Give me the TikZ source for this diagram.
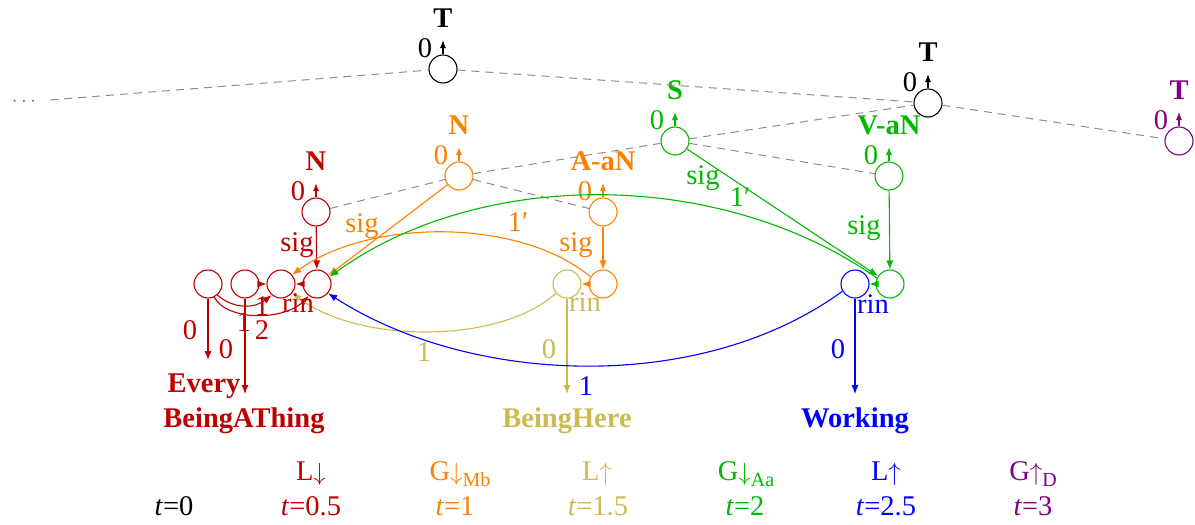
\documentclass[tikz,border=0pt]{standalone}
\usepackage{fontspec}
\setmainfont{Liberation Serif}
\usetikzlibrary{arrows.meta}
\definecolor{cR}{RGB}{192,0,0}
\definecolor{cO}{RGB}{255,128,0}
\definecolor{cY}{RGB}{204,187,80}
\definecolor{cG}{RGB}{0,185,0}
\definecolor{cB}{RGB}{0,0,255}
\definecolor{cP}{RGB}{128,0,128}
\definecolor{cD}{RGB}{140,140,140}
\newcommand\mkup[5]{%
 \node[st,draw=#4] (#1) at (#2,#3) {};
 \coordinate (#1u) at (#2,#3-29);
 \draw[upa,#4] (#1) -- (#1u);
 \node[bld,#4,anchor=base] (#1l) at (#2,#3-42) {#5};
 \node[txt,#4,anchor=base] (#1z) at (#2-18,#3-12) {0};
}
\newcommand\subx[1]{\raisebox{-0.22em}{\fontsize{20}{22}\selectfont #1}}
\newcommand\dn{$\downarrow$}
\newcommand\upr{$\uparrow$}
\begin{document}
\begin{tikzpicture}[x=1pt,y=-1pt,
 st/.style={circle,draw,minimum size=28pt,inner sep=0pt,line width=1.1pt},
 arr/.style={-{Latex[length=9pt,width=7pt]},line width=1.1pt},
 upa/.style={-{Latex[length=8pt,width=6pt]},line width=1.1pt},
 txt/.style={inner sep=0pt,font=\fontsize{28.5}{31}\selectfont},
 bld/.style={inner sep=0pt,font=\fontsize{28.5}{31}\selectfont\bfseries},
 word/.style={inner xsep=0pt,inner ysep=13pt,font=\fontsize{28.5}{31}\selectfont\bfseries,anchor=base},
 dsh/.style={dash pattern=on 8pt off 6pt,cD,line width=1pt},
]
\useasboundingbox (0,0) rectangle (1195,525);

% upper nodes
\mkup{T1}{443}{69}{black}{T}
\mkup{T2}{928}{103}{black}{T}
\mkup{T3}{1179}{141}{cP}{T}
\mkup{rN}{316}{212}{cR}{N}
\mkup{orN}{459}{176}{cO}{N}
\mkup{AaN}{603}{212}{cO}{A-aN}
\mkup{S}{675}{141}{cG}{S}
\mkup{VaN}{889}{176}{cG}{V-aN}

\node[inner xsep=14pt,inner ysep=0pt,text=cD!80!black,font=\fontsize{21}{22}\selectfont] (dots) at (24,102) {$\cdots$};

% bottom circles
\node[st,draw=cR] (r1) at (208,284) {};
\node[st,draw=cR] (r2) at (245,284) {};
\node[st,draw=cR] (r3) at (281,284) {};
\node[st,draw=cR] (r4) at (317,284) {};
\node[st,draw=cY] (yl) at (567,284) {};
\node[st,draw=cO] (orB) at (603,284) {};
\node[st,draw=cB] (bl) at (855,284) {};
\node[st,draw=cG] (gr) at (890,284) {};

% words
\node[word,cR] (ev) at (204,392) {Every};
\node[word,cR] (bat) at (244,427) {BeingAThing};
\node[word,cY] (bh) at (567,427) {BeingHere};
\node[word,cB] (wk) at (855,427) {Working};

% dashed tree lines
\draw[dsh] (dots) -- (T1);
\draw[dsh] (T1) -- (T2);
\draw[dsh] (T2) -- (T3);
\draw[dsh] (rN) -- (orN);
\draw[dsh] (orN) -- (S);
\draw[dsh] (orN) -- (AaN);
\draw[dsh] (S) -- (T2);
\draw[dsh] (S) -- (VaN);

% red edges
\draw[arr,cR] (rN) -- (r4);
\draw[arr,cR] (r2) -- (r3);
\draw[arr,cR] (r4) -- (r3);
\draw[arr,cR] (r1.-50) .. controls (235,310) and (255,308) .. (r3.-130);
\draw[arr,cR] (r1.-65) .. controls (228,322) and (285,320) .. (r4.-125);
\draw[arr,cR] (r1) -- (r1 |- ev.north);
\draw[arr,cR] (r2) -- (r2 |- bat.north);

% orange edges
\draw[arr,cO] (orN) -- (r4);
\draw[arr,cO] (AaN) -- (orB);
\draw[arr,cO] (orB) -- (yl);
\draw[arr,cO] (orB.150) .. controls (520,218) and (370,218) .. (r3.40);

% yellow edges
\draw[arr,cY] (yl.220) .. controls (500,344) and (360,344) .. (r3.-40);
\draw[arr,cY] (yl) -- (yl |- bh.north);

% green edges
\draw[arr,cG] (S) -- (gr);
\draw[arr,cG] (VaN) -- (gr);
\draw[arr,cG] (gr) -- (bl);
\draw[arr,cG] (gr.155) .. controls (720,168) and (480,168) .. (r4.30);

% blue edges
\draw[arr,cB] (bl.210) .. controls (700,395) and (470,385) .. (r4.-40);
\draw[arr,cB] (bl) -- (bl |- wk.north);

% edge labels
\node[txt,cR] (lsig1) at (297,245) {sig};
\node[txt,cO] (lsig2) at (362,226) {sig};
\node[txt,cO] (lp1) at (518,222) {1′};
\node[txt,cO] (lsig3) at (576,245) {sig};
\node[txt,cY] (lrin2) at (585,302) {rin};
\node[txt,cG] (lsig4) at (703,178) {sig};
\node[txt,cG] (lp2) at (740,197) {1′};
\node[txt,cG] (lsig5) at (864,228) {sig};
\node[txt,cB] (lrin3) at (873,304) {rin};
\node[txt,cB] (lb0) at (838,349) {0};
\node[txt,cB] (lb1) at (586,386) {1};
\node[txt,cY] (ly0) at (549,349) {0};
\node[txt,cY] (ly1) at (424,352) {1};
\node[txt,cR] (lrin1) at (298,303) {rin};
\node[txt,cR] (lr1) at (262,306) {1};
\node[txt,cR] (lr1b) at (244,322) {1};
\node[txt,cR] (lr2) at (262,330) {2};
\node[txt,cR] (lr0) at (190,330) {0};
\node[txt,cR] (lr0b) at (226,349) {0};

% time row
\node[txt,anchor=base] (t0) at (174,515) {\textit{t}=0};
\node[txt,cR,anchor=base] (h1) at (311,480) {L\dn};
\node[txt,cR,anchor=base] (t1) at (311,515) {\textit{t}=0.5};
\node[txt,cO,anchor=base] (h2) at (460,480) {G\dn\subx{Mb}};
\node[txt,cO,anchor=base] (t2) at (455,515) {\textit{t}=1};
\node[txt,cY,anchor=base] (h3) at (597,480) {L\upr};
\node[txt,cY,anchor=base] (t3) at (598,515) {\textit{t}=1.5};
\node[txt,cG,anchor=base] (h4) at (746,480) {G\dn\subx{Aa}};
\node[txt,cG,anchor=base] (t4) at (745,515) {\textit{t}=2};
\node[txt,cB,anchor=base] (h5) at (886,480) {L\upr};
\node[txt,cB,anchor=base] (t5) at (886,515) {\textit{t}=2.5};
\node[txt,cP,anchor=base] (h6) at (1033,480) {G\upr\subx{D}};
\node[txt,cP,anchor=base] (t6) at (1033,515) {\textit{t}=3};
\end{tikzpicture}
\end{document}
